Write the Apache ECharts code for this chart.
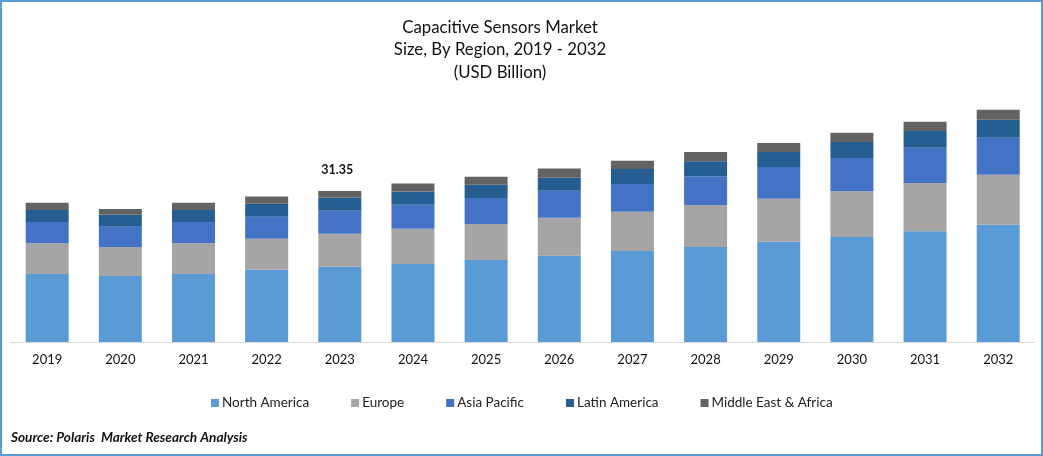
<!DOCTYPE html>
<html lang="en">
<head>
    <meta charset="UTF-8">
    <title>Capacitive Sensors Market</title>
    <style>
        html, body { margin: 0; padding: 0; background: #fff; }
        #main { width: 1043px; height: 456px; outline: 2px solid #5b9bd5; outline-offset: -2px; }
    </style>
</head>
<body>
    <div id="main"></div>
    <script src="https://cdn.jsdelivr.net/npm/echarts@6/dist/echarts.min.js"></script>
    <script>
        const years = ['2019', '2020', '2021', '2022', '2023', '2024', '2025', '2026', '2027', '2028', '2029', '2030', '2031', '2032'];
        const northAmerica = [14.1, 13.7, 14.1, 15.0, 15.6, 16.2, 17.0, 17.9, 18.9, 19.7, 20.8, 21.8, 23.0, 24.3];
        const europe = [6.4, 6.0, 6.4, 6.4, 6.85, 7.3, 7.5, 7.9, 8.1, 8.7, 8.9, 9.5, 10.0, 10.4];
        const asiaPacific = [4.4, 4.2, 4.4, 4.6, 4.8, 5.0, 5.4, 5.6, 5.8, 6.0, 6.6, 6.9, 7.3, 7.7];
        const latinAmerica = [2.5, 2.5, 2.5, 2.7, 2.7, 2.7, 2.7, 2.7, 3.1, 3.1, 3.1, 3.3, 3.5, 3.7];
        const middleEastAfrica = [1.5, 1.2, 1.5, 1.5, 1.4, 1.7, 1.7, 1.9, 1.7, 1.9, 1.9, 1.9, 1.9, 2.1];
        // only 2023 carries a total on the chart
        const totalLabels = { '2023': '31.35' };

        const fontName = 'Lato';

        function barSeries(name, values, color) {
            return { name: name, type: 'bar', stack: 'total', barWidth: 43, data: values, itemStyle: { color: color } };
        }

        let series = [
            barSeries('North America', northAmerica, '#5b9bd5'),
            barSeries('Europe', europe, '#a5a5a5'),
            barSeries('Asia Pacific', asiaPacific, '#4472c4'),
            barSeries('Latin America', latinAmerica, '#255e91'),
            barSeries('Middle East & Africa', middleEastAfrica, '#636363')
        ];
        series[4].label = {
            show: true,
            position: 'top',
            distance: 14,
            offset: [-2.5, 0],
            fontFamily: fontName,
            fontWeight: 'bold',
            fontSize: 12.5,
            color: '#111',
            formatter: p => totalLabels[p.name] || ''
        };

        let myChart = echarts.init(document.getElementById('main'));
        myChart.setOption({
            animation: false,
            title: [
                {
                    text: 'Capacitive Sensors Market\nSize, By Region, 2019 - 2032\n(USD Billion)',
                    left: 500,
                    top: 16,
                    padding: 0,
                    textAlign: 'center',
                    textStyle: { fontFamily: fontName, fontWeight: 'normal', fontSize: 16.8, lineHeight: 22.5, color: '#111' }
                },
                {
                    text: 'Source: Polaris  Market Research Analysis',
                    left: 11,
                    top: 431,
                    padding: 0,
                    textStyle: { fontFamily: fontName, fontWeight: 'bold', fontStyle: 'italic', fontSize: 13.6, color: '#111' }
                }
            ],
            legend: {
                left: 211,
                top: 396,
                icon: 'rect',
                itemWidth: 8,
                itemHeight: 8,
                itemGap: 42,
                padding: 0,
                textStyle: { fontFamily: fontName, fontSize: 13.5, color: '#222', padding: [0, 0, 0, -2] }
            },
            grid: { left: 10.6, right: 8.2, top: 101, bottom: 114 },
            xAxis: {
                type: 'category',
                data: years,
                axisTick: { show: false },
                axisLine: { lineStyle: { color: '#d9d9d9', width: 1 } },
                axisLabel: { fontFamily: fontName, fontSize: 13, color: '#111', margin: 11 }
            },
            yAxis: { type: 'value', min: 0, max: 50, show: false },
            series: series
        });
    </script>
</body>
</html>
